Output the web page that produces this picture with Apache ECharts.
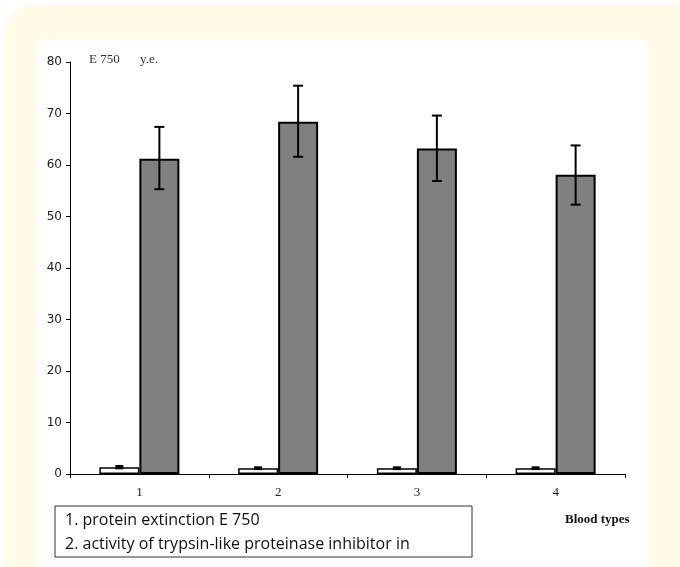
<!DOCTYPE html>
<html>
<head>
<meta charset="utf-8">
<script src="https://cdn.jsdelivr.net/npm/echarts@6/dist/echarts.min.js"></script>
<style>html,body{margin:0;padding:0;background:#fff;}#c{width:680px;height:567px;}</style>
</head>
<body>
<div id="c"></div>
<script>
var categories = ['1', '2', '3', '4'];
var proteinValues = [1.3, 1.1, 1.1, 1.1];
var proteinErrLow = [1.1, 0.95, 0.95, 0.95];
var proteinErrHigh = [1.55, 1.3, 1.3, 1.3];
var inhibitorValues = [61.2, 68.4, 63.2, 58.1];
var inhibitorErrLow = [55.3, 61.6, 56.9, 52.3];
var inhibitorErrHigh = [67.4, 75.4, 69.6, 63.8];
var yTicks = [0, 10, 20, 30, 40, 50, 60, 70, 80];
var legendLines = ['1. protein extinction E 750', '2. activity of trypsin-like proteinase inhibitor in'];

var chart = echarts.init(document.getElementById('c'), null, {renderer: 'canvas'});

function errSeries(lows, highs, offset, lw, cap) {
  return {
    type: 'custom',
    z: 5,
    data: lows.map(function (l, i) { return [i, l, highs[i]]; }),
    renderItem: function (params, api) {
      var lo = api.coord([api.value(0), api.value(1)]);
      var hi = api.coord([api.value(0), api.value(2)]);
      var x = lo[0] + offset;
      var st = {stroke: '#000', lineWidth: lw};
      return {
        type: 'group',
        children: [
          {type: 'line', shape: {x1: x, y1: lo[1], x2: x, y2: hi[1]}, style: st},
          {type: 'line', shape: {x1: x - cap, y1: hi[1], x2: x + cap, y2: hi[1]}, style: st},
          {type: 'line', shape: {x1: x - cap, y1: lo[1], x2: x + cap, y2: lo[1]}, style: st}
        ]
      };
    }
  };
}

var option = {
  animation: false,
  backgroundColor: '#ffffff',
  graphic: [
    {type: 'rect', z: -10, shape: {x: 4, y: 5, width: 700, height: 620, r: 28}, style: {fill: '#fffbe6'}},
    {type: 'rect', z: -9, shape: {x: 35, y: 40, width: 612, height: 540}, style: {fill: '#ffffff'}},
    {type: 'text', left: 89, top: 53, style: {text: 'E 750', font: '13px "Liberation Serif"', fill: '#333'}},
    {type: 'text', left: 140, top: 53, style: {text: 'y.e.', font: '13px "Liberation Serif"', fill: '#333'}},
    {type: 'rect', shape: {x: 55, y: 506, width: 417, height: 51}, style: {fill: '#fff', stroke: '#333', lineWidth: 1}},
    {type: 'text', left: 65, top: 512, style: {text: legendLines[0], font: '16px "Open Sans"', fill: '#111'}},
    {type: 'text', left: 65, top: 536, style: {text: legendLines[1], font: '16px "Open Sans"', fill: '#111'}},
    {type: 'text', left: 565, top: 513, style: {text: 'Blood types', font: 'bold 13px "Liberation Serif"', fill: '#111'}}
  ],
  grid: {left: 70, right: 55, top: 62, bottom: 93, containLabel: false},
  xAxis: {
    type: 'category',
    data: categories,
    boundaryGap: true,
    axisLine: {lineStyle: {color: '#000', width: 1}},
    axisTick: {show: true, length: 4, lineStyle: {color: '#000'}},
    axisLabel: {color: '#222', fontFamily: 'Liberation Serif', fontSize: 13, margin: 12}
  },
  yAxis: {
    type: 'value',
    min: yTicks[0],
    max: yTicks[yTicks.length - 1],
    interval: 10,
    axisLine: {show: true, lineStyle: {color: '#000', width: 1}},
    axisTick: {show: true, length: 4, lineStyle: {color: '#000'}},
    axisLabel: {color: '#222', fontFamily: 'DejaVu Sans', fontSize: 12, margin: 8},
    splitLine: {show: false}
  },
  series: [
    {
      type: 'bar',
      data: proteinValues,
      barWidth: 40,
      barGap: '0%',
      itemStyle: {color: '#ffffff', borderColor: '#000', borderWidth: 1.5}
    },
    {
      type: 'bar',
      data: inhibitorValues,
      barWidth: 40,
      barGap: '0%',
      itemStyle: {color: '#808080', borderColor: '#000', borderWidth: 2}
    },
    errSeries(proteinErrLow, proteinErrHigh, -20, 2, 4),
    errSeries(inhibitorErrLow, inhibitorErrHigh, 20, 2, 5)
  ]
};
chart.setOption(option);
</script>
</body>
</html>
